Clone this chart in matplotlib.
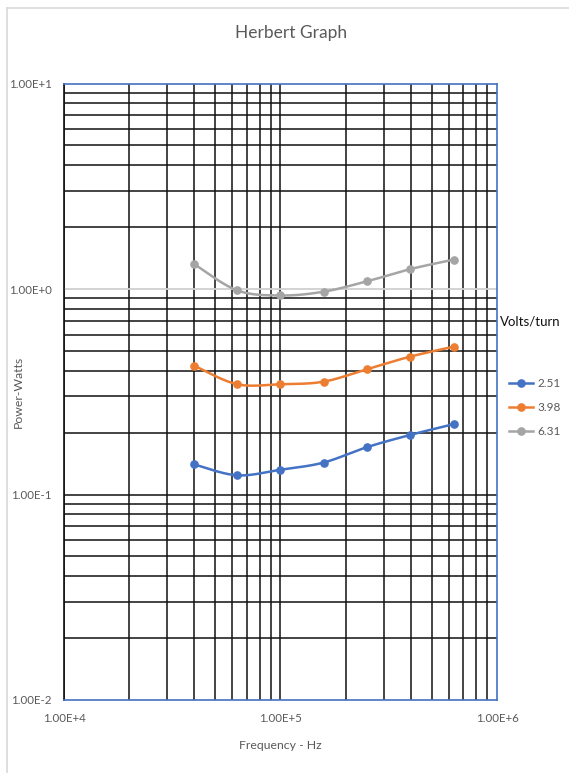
import numpy as np
import matplotlib
matplotlib.use("Agg")
import matplotlib.pyplot as plt
from matplotlib.lines import Line2D
from matplotlib.ticker import FixedLocator, FuncFormatter, NullFormatter

plt.rcParams['font.family'] = ['Lato', 'DejaVu Sans']

# Frequency (Hz) and core loss (W) for each volts/turn level
freq = [40000, 63000, 100000, 158000, 251000, 398000, 631000]
series_labels = ['2.51', '3.98', '6.31']
power_251 = [0.140, 0.124, 0.132, 0.143, 0.170, 0.195, 0.220]
power_398 = [0.423, 0.344, 0.344, 0.354, 0.407, 0.469, 0.524]
power_631 = [1.32, 0.985, 0.93, 0.97, 1.09, 1.25, 1.39]
colors = ['#4472C4', '#ED7D31', '#A5A5A5']

x_ticks = [1e4, 1e5, 1e6]
y_ticks = [1e-2, 1e-1, 1e0, 1e1]


def smooth(xs, ys, n=30):
    """Catmull-Rom style smoothing in log-log space."""
    lx = np.log10(xs)
    ly = np.log10(ys)
    px = np.concatenate([[lx[0]], lx, [lx[-1]]])
    py = np.concatenate([[ly[0]], ly, [ly[-1]]])
    outx, outy = [], []
    for i in range(1, len(px) - 2):
        p0, p1, p2, p3 = (np.array([px[j], py[j]]) for j in (i - 1, i, i + 1, i + 2))
        c1 = p1 + (p2 - p0) / 6.0
        c2 = p2 - (p3 - p1) / 6.0
        t = np.linspace(0, 1, n)[:, None]
        b = ((1 - t) ** 3) * p1 + 3 * ((1 - t) ** 2) * t * c1 + 3 * (1 - t) * t ** 2 * c2 + t ** 3 * p2
        outx.extend(b[:, 0])
        outy.extend(b[:, 1])
    return 10 ** np.array(outx), 10 ** np.array(outy)


W, H = 569, 773
fig = plt.figure(figsize=(W / 100, H / 100), dpi=100)
ax = fig.add_axes([64 / W, (H - 700) / H, (497 - 64) / W, (700 - 83.5) / H])
ax.set_xscale('log')
ax.set_yscale('log')
ax.set_xlim(1e4, 1e6)
ax.set_ylim(1e-2, 1e1)

# grid: minor lines black, major horizontal at 1 in light grey
grid_kw = dict(color='#111111', lw=1.1, zorder=1)
for dec in (1e4, 1e5):
    for m in range(2, 10):
        ax.axvline(dec * m, **grid_kw)
ax.axvline(1e4, **grid_kw)
ax.axvline(1e5, **grid_kw)
for dec in (1e-2, 1e-1, 1e0):
    for m in range(2, 10):
        ax.axhline(dec * m, **grid_kw)
ax.axhline(1e-1, **grid_kw)
ax.axhline(1e0, color='#D0D0D0', lw=1.3, zorder=1)

for s in ax.spines.values():
    s.set_color('#4472C4')
    s.set_linewidth(1.2)
ax.spines['left'].set_color('#111111')

fmt = FuncFormatter(lambda v, p: '{:.2E}'.format(v).replace('E+0', 'E+').replace('E-0', 'E-'))
ax.xaxis.set_major_locator(FixedLocator(x_ticks))
ax.yaxis.set_major_locator(FixedLocator(y_ticks))
ax.xaxis.set_major_formatter(fmt)
ax.yaxis.set_major_formatter(fmt)
ax.xaxis.set_minor_formatter(NullFormatter())
ax.yaxis.set_minor_formatter(NullFormatter())
ax.tick_params(which='both', length=0, labelsize=8.3, labelcolor='#595959')
ax.tick_params(axis='x', pad=9)
ax.tick_params(axis='y', pad=9)

for ys, lab, c in zip([power_251, power_398, power_631], series_labels, colors):
    sx, sy = smooth(freq, ys)
    ax.plot(sx, sy, color=c, lw=1.8, zorder=3)
    ax.plot(freq, ys, 'o', color=c, ms=5.2, zorder=4)

ax.set_xlabel('Frequency - Hz', fontsize=8.8, color='#595959')
ax.xaxis.set_label_coords(0.5, -(740 - 700) / 616.5, transform=ax.transAxes)
ax.set_ylabel('Power-Watts', fontsize=8.8, color='#595959')
ax.yaxis.set_label_coords(-(64 - 24) / 433, 0.5)
fig.text(291 / W, 1 - 33 / H, 'Herbert Graph', ha='center', va='center',
         fontsize=12.5, color='#595959')

# legend
handles = [Line2D([], [], color=c, lw=1.8, marker='o', ms=5.2) for c in colors]
fig.text(500 / W, 1 - 321 / H, 'Volts/turn', ha='left', va='center',
         fontsize=9.5, color='#111111')
fig.legend(handles, series_labels, loc='upper left',
           bbox_to_anchor=(503 / W, 1 - 372 / H), frameon=False,
           fontsize=8.5, labelcolor='#595959', handlelength=2.0,
           handletextpad=0.4, labelspacing=1.1, borderpad=0)

# chart area border
fig.add_artist(Line2D([6.5 / W, 6.5 / W], [0, 1 - 8 / H], color='#D9D9D9', lw=1.2))
fig.add_artist(Line2D([6.5 / W, 1], [1 - 8 / H, 1 - 8 / H], color='#D9D9D9', lw=1.2))

fig.savefig('out.png', dpi=100, facecolor='white')
